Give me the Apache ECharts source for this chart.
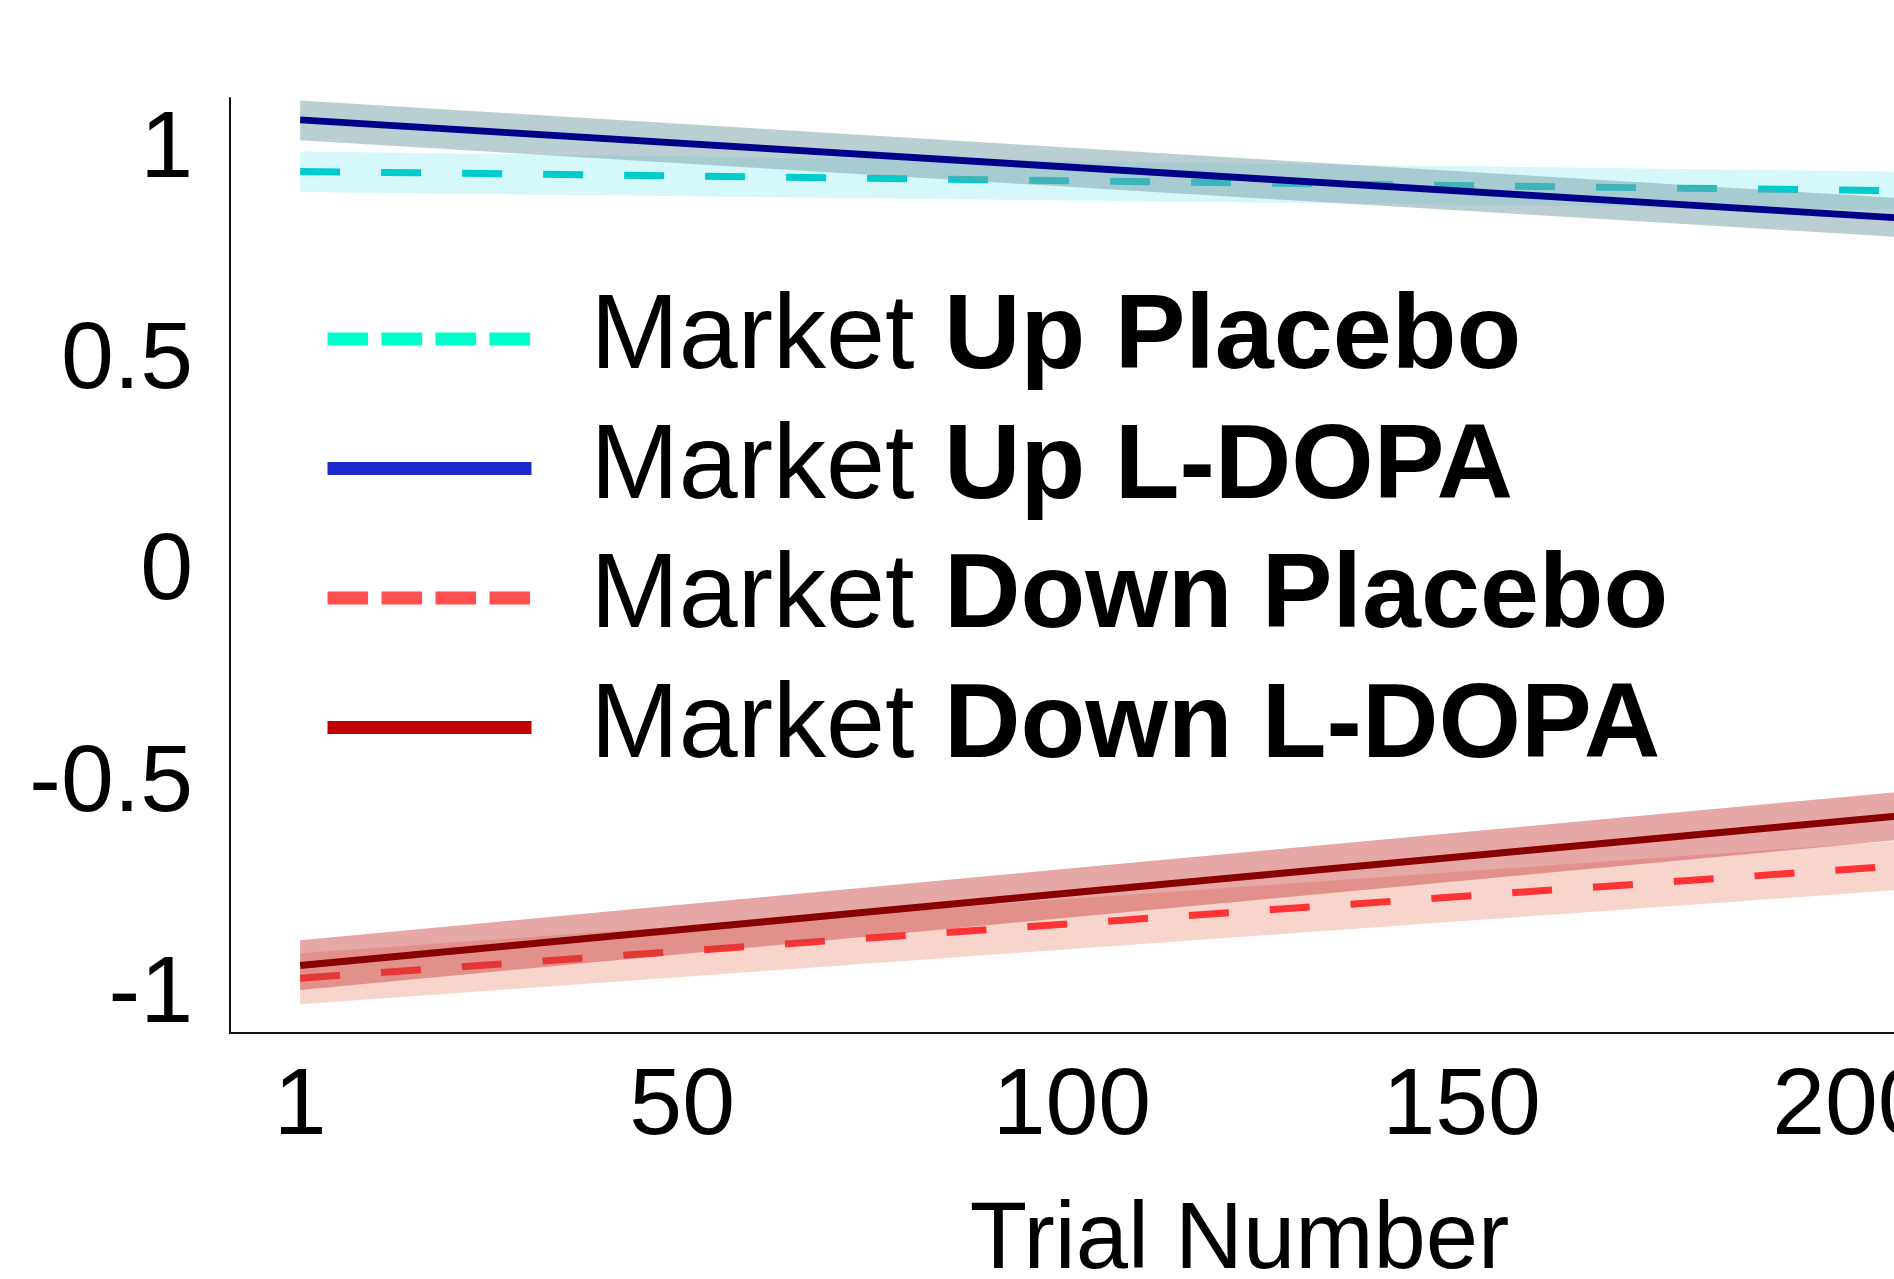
<!DOCTYPE html>
<html>
<head>
<meta charset="utf-8">
<script src="https://cdn.jsdelivr.net/npm/echarts@6/dist/echarts.min.js"></script>
<style>
html,body{margin:0;padding:0;overflow:hidden;background:#fff;width:1894px;height:1279px}
#chart{width:2249px;height:1279px}
</style>
</head>
<body>
<div id="chart"></div>
<script>
// ---------- data ----------
const trials = [1, 100, 206];
const xTickLabels = [1, 50, 100, 150, 200];
const yTickLabels = [-1, -0.5, 0, 0.5, 1];
const seriesNames = ['Market Up Placebo', 'Market Up L-DOPA', 'Market Down Placebo', 'Market Down L-DOPA'];

const upPlaceboMean = [0.951, 0.929, 0.905];
const upPlaceboLow  = [0.902, 0.882, 0.860];
const upPlaceboHigh = [0.998, 0.975, 0.950];

const upLdopaMean = [1.073, 0.961, 0.841];
const upLdopaLow  = [1.025, 0.914, 0.796];
const upLdopaHigh = [1.119, 1.007, 0.888];

const downPlaceboMean = [-0.959, -0.830, -0.693];
const downPlaceboLow  = [-1.021, -0.890, -0.750];
const downPlaceboHigh = [-0.900, -0.771, -0.634];

const downLdopaMean = [-0.929, -0.757, -0.575];
const downLdopaLow  = [-0.987, -0.815, -0.632];
const downLdopaHigh = [-0.869, -0.699, -0.518];

// ---------- styling ----------
const FONT = '"Liberation Sans", Arial, Helvetica, sans-serif';
const legendColors = ['#00FFCC', '#1C2ACC', '#FF5050', '#C00000'];
const legendDashed = [true, false, true, false];

function band(name, low, high, color, z) {
  return {
    type: 'custom', name: name, z: z, silent: true, animation: false,
    data: trials.map((t, i) => [t, low[i], high[i]]),
    encode: { x: 0, y: [1, 2] },
    renderItem: function (params, api) {
      if (params.dataIndex !== 0) return null;
      const pts = [];
      for (let i = 0; i < trials.length; i++) pts.push(api.coord([trials[i], high[i]]));
      for (let i = trials.length - 1; i >= 0; i--) pts.push(api.coord([trials[i], low[i]]));
      return { type: 'polygon', shape: { points: pts }, style: { fill: color } };
    }
  };
}
function line(name, mean, color, dashed, z) {
  return {
    type: 'line', name: name, z: z, symbol: 'none', showSymbol: false, animation: false,
    data: trials.map((t, i) => [t, mean[i]]),
    lineStyle: { color: color, width: 7, type: dashed ? [40, 41] : 'solid', cap: 'butt' },
    itemStyle: { color: color },
    emphasis: { disabled: true }
  };
}

const chart = echarts.init(document.getElementById('chart'), null, { renderer: 'canvas' });
chart.setOption({
  backgroundColor: '#fff',
  animation: false,
  grid: { left: 230, right: 0, top: 98, bottom: 246, containLabel: false, outerBoundsMode: 'none' },
  xAxis: {
    type: 'value', min: -8, max: 251,
    axisLine: { show: true, onZero: false, lineStyle: { color: '#111', width: 2 } },
    axisTick: { show: false },
    splitLine: { show: false },
    axisLabel: {
      customValues: xTickLabels, margin: 27,
      fontSize: 95, fontFamily: FONT, color: '#000',
      formatter: v => String(v)
    },
    name: 'Trial Number', nameLocation: 'middle', nameGap: 162,
    nameTextStyle: { fontSize: 94, fontFamily: FONT, color: '#000' }
  },
  yAxis: {
    type: 'value', min: -1.0888, max: 1.1248,
    axisLine: { show: true, onZero: false, lineStyle: { color: '#111', width: 2 } },
    axisTick: { show: false },
    splitLine: { show: false },
    axisLabel: {
      customValues: yTickLabels, margin: 37,
      fontSize: 95, fontFamily: FONT, color: '#000',
      formatter: v => String(v)
    }
  },
  legend: {
    orient: 'vertical', left: 316, top: 281, itemGap: 23.5,
    itemWidth: 204, itemHeight: 20, selectedMode: false,
    data: seriesNames.map((n, i) => ({
      name: n,
      lineStyle: { color: legendColors[i], width: 13, type: legendDashed[i] ? [40.6, 13.4] : 'solid', cap: 'butt' },
      itemStyle: { color: 'rgba(0,0,0,0)', borderWidth: 0, opacity: 0 }
    })),
    formatter: n => '{n|Market }{b|' + n.replace('Market ', '') + '}',
    textStyle: {
      color: '#000', fontFamily: FONT,
      rich: {
        n: { fontSize: 106, fontFamily: FONT, color: '#000', padding: [0, 0, 0, 54] },
        b: { fontSize: 106, fontFamily: FONT, color: '#000', fontWeight: 'bold' }
      }
    }
  },
  series: [
    band('Up Placebo CI', upPlaceboLow, upPlaceboHigh, 'rgba(190,244,248,0.65)', 1),
    line(seriesNames[0], upPlaceboMean, '#00CCCC', true, 2),
    band('Up L-DOPA CI', upLdopaLow, upLdopaHigh, 'rgba(120,160,168,0.5)', 3),
    line(seriesNames[1], upLdopaMean, '#000088', false, 4),
    band('Down Placebo CI', downPlaceboLow, downPlaceboHigh, 'rgba(235,150,130,0.4)', 1),
    line(seriesNames[2], downPlaceboMean, '#FF3333', true, 2),
    band('Down L-DOPA CI', downLdopaLow, downLdopaHigh, 'rgba(200,60,60,0.45)', 3),
    line(seriesNames[3], downLdopaMean, '#880000', false, 4)
  ]
});
</script>
</body>
</html>
